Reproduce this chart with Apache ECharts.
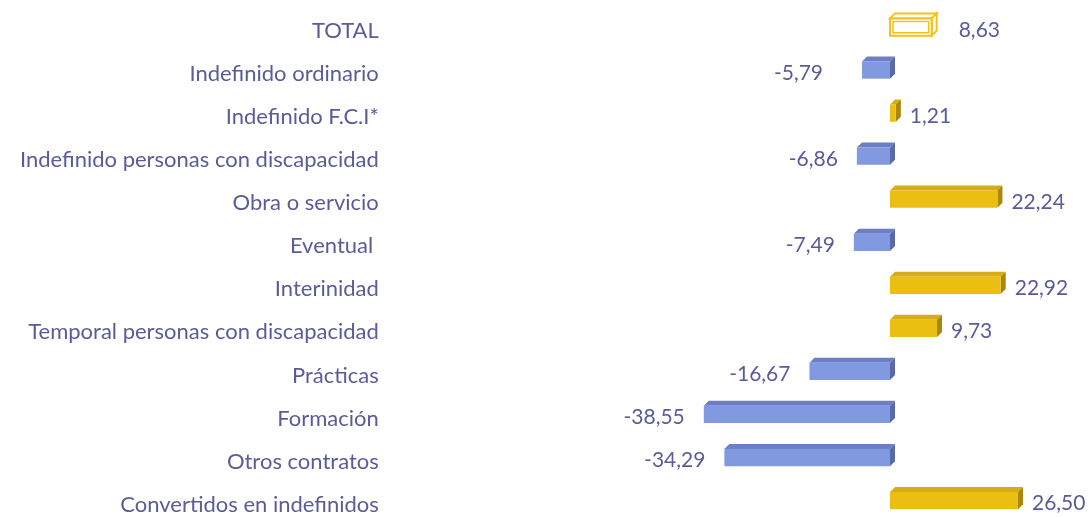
<!DOCTYPE html>
<html>
<head>
<meta charset="utf-8">
<script src="https://cdn.jsdelivr.net/npm/echarts@6/dist/echarts.min.js"></script>
<style>
  html, body { margin: 0; padding: 0; background: #fff; }
  #chart { width: 1090px; height: 517px; }
</style>
</head>
<body>
<div id="chart"></div>
<script>
// categorias (de arriba a abajo)
const categories = [
  'TOTAL',
  'Indefinido ordinario',
  'Indefinido F.C.I*',
  'Indefinido personas con discapacidad',
  'Obra o servicio',
  'Eventual ',
  'Interinidad',
  'Temporal personas con discapacidad',
  'Prácticas',
  'Formación',
  'Otros contratos',
  'Convertidos en indefinidos'
]
// variacion en %
const values = [8.63, -5.79, 1.21, -6.86, 22.24, -7.49, 22.92, 9.73, -16.67, -38.55, -34.29, 26.50]

const textColor = '#5b5b98'
const fontFamily = 'Lato, "Open Sans", sans-serif'
const depthX = 5
const depthY = 5

const yellow = { front: '#ebbf12', top: '#d6ad14', side: '#a88709' }
const blue = { front: '#8099e0', top: '#6c7ec4', side: '#5a69a8' }

// ajustes finos de etiquetas (px)
const labelNudge = { 0: 13, 1: -20 }

function fmt(v) {
  return v.toFixed(2).replace('.', ',')
}

function renderItem(params, api) {
  const idx = params.dataIndex
  const v = api.value(1)
  const p0 = api.coord([0, idx])
  const p1 = api.coord([v, idx])
  const h = api.size([0, 1])[1] * 0.4
  const cy = p0[1]
  const x0 = Math.min(p0[0], p1[0])
  const x1 = Math.max(p0[0], p1[0])
  const yt = cy - h / 2
  const yb = cy + h / 2
  const isTotal = idx === 0
  const pal = v >= 0 ? yellow : blue
  const children = []

  const stroke = isTotal ? { stroke: '#f2c218', lineWidth: 2 } : {}
  // cara superior
  children.push({
    type: 'polygon',
    shape: { points: [[x0, yt], [x1, yt], [x1 + depthX, yt - depthY], [x0 + depthX, yt - depthY]] },
    style: Object.assign({ fill: isTotal ? '#fff' : pal.top }, stroke)
  })
  // cara lateral
  children.push({
    type: 'polygon',
    shape: { points: [[x1, yt], [x1 + depthX, yt - depthY], [x1 + depthX, yb - depthY], [x1, yb]] },
    style: Object.assign({ fill: isTotal ? '#fff' : pal.side }, stroke)
  })
  // cara frontal
  children.push({
    type: 'rect',
    shape: { x: x0, y: yt, width: x1 - x0, height: h },
    style: Object.assign({ fill: isTotal ? '#fff' : pal.front }, stroke)
  })
  if (isTotal) {
    children.push({
      type: 'rect',
      shape: { x: x0 + 3, y: yt + 3, width: x1 - x0 - 6, height: h - 6 },
      style: { fill: 'none', stroke: '#f2c218', lineWidth: 1.5 }
    })
  }
  // etiqueta
  const nudge = labelNudge[idx] || 0
  children.push({
    type: 'text',
    style: {
      text: fmt(v),
      x: v >= 0 ? x1 + 14 + nudge : x0 - 19 + nudge,
      y: cy + 3,
      align: v >= 0 ? 'left' : 'right',
      verticalAlign: 'middle',
      fill: textColor,
      font: '21px ' + fontFamily
    }
  })
  return { type: 'group', children: children }
}

const chart = echarts.init(document.getElementById('chart'))
chart.setOption({
  animation: false,
  grid: { left: 696.8, width: 338.1, top: 5.5, height: 516.6, outerBoundsMode: 'none', containLabel: false },
  xAxis: {
    type: 'value',
    min: -40,
    max: 30,
    show: false
  },
  yAxis: {
    type: 'category',
    data: categories,
    inverse: true,
    axisLine: { show: false },
    axisTick: { show: false },
    splitLine: { show: false },
    axisLabel: {
      margin: 318,
      color: textColor,
      fontFamily: 'Lato, "Open Sans", sans-serif',
      fontSize: 22,
      verticalAlign: 'top',
      lineHeight: 8
    }
  },
  series: [{
    type: 'custom',
    renderItem: renderItem,
    encode: { x: 1, y: 0 },
    data: values.map((v, i) => [i, v])
  }]
})
</script>
</body>
</html>
